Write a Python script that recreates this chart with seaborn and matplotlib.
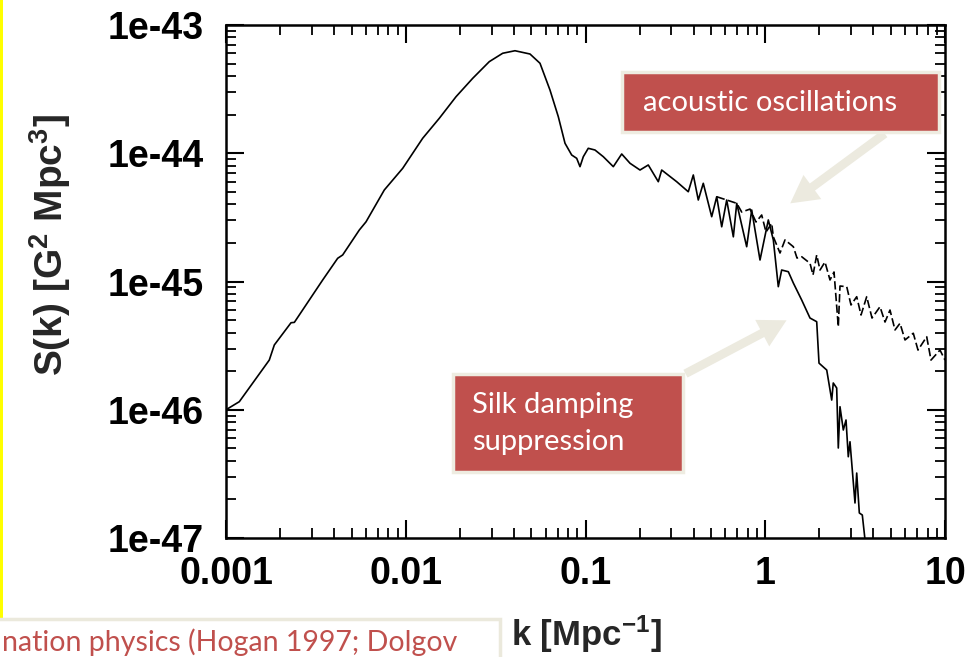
import matplotlib
matplotlib.use("Agg")
import matplotlib.pyplot as plt
import seaborn as sns
import pandas as pd
from matplotlib.ticker import LogLocator, NullFormatter, FixedLocator, FixedFormatter
from matplotlib.patches import Rectangle, FancyArrowPatch

# ---------------- data ----------------
k_solid = [0.001, 0.001186, 0.001741, 0.001857, 0.00230, 0.00240, 0.003451, 0.004181,
           0.004457, 0.005516, 0.006012, 0.007597, 0.009617, 0.01242, 0.01537, 0.01904,
           0.02358, 0.02916, 0.03462, 0.04052, 0.04912, 0.05583, 0.06345, 0.07058,
           0.07691, 0.08378, 0.08933, 0.09320, 0.09723, 0.1036, 0.1129, 0.1256,
           0.1428, 0.1590, 0.1769, 0.2010, 0.2235, 0.2541, 0.2654, 0.3216, 0.3731,
           0.3979, 0.4241, 0.4521, 0.5036, 0.5370, 0.5725, 0.6103, 0.6645, 0.6940,
           0.7883, 0.8407, 0.9350, 1.040, 1.109, 1.182, 1.234, 1.344, 1.433, 1.595,
           1.774, 1.933, 1.991, 2.198, 2.343, 2.390, 2.497, 2.549, 2.605, 2.718,
           2.814, 2.897, 2.961, 3.157, 3.227, 3.337, 3.467, 3.613]
S_solid = [1.0e-46, 1.156e-46, 2.44e-46, 3.20e-46, 4.77e-46, 4.80e-46, 1.028e-45, 1.517e-45,
           1.61e-45, 2.52e-45, 2.92e-45, 5.17e-45, 7.63e-45, 1.308e-44, 1.873e-44, 2.76e-44,
           3.84e-44, 5.18e-44, 6.02e-44, 6.30e-44, 5.94e-44, 5.03e-44, 3.11e-44, 1.928e-44,
           1.196e-44, 9.69e-45, 9.13e-45, 7.86e-45, 9.40e-45, 1.093e-44, 1.060e-44, 9.40e-45,
           7.86e-45, 9.87e-45, 8.35e-45, 7.40e-45, 8.10e-45, 6.00e-45, 7.40e-45, 6.00e-45, 5.01e-45,
           6.77e-45, 4.32e-45, 5.83e-45, 3.20e-45, 4.58e-45, 2.67e-45, 4.32e-45, 2.23e-45, 4.07e-45,
           1.867e-45, 3.61e-45, 1.471e-45, 3.02e-45, 2.11e-45, 9.11e-46, 1.229e-45, 1.192e-45,
           9.73e-46, 7.17e-46, 5.19e-46, 4.86e-46, 2.31e-46, 2.04e-46, 1.19e-46, 1.617e-46,
           1.478e-46, 5.03e-47, 1.056e-46, 6.95e-47, 8.32e-47, 4.30e-47, 5.63e-47, 1.875e-47,
           3.21e-47, 1.567e-47, 1.511e-47, 8.9e-48]

k_dashed = [0.5370, 0.6103, 0.6940, 0.7396, 0.8226, 0.8882, 0.9554, 1.0097, 1.0862, 1.109,
            1.208, 1.288, 1.433, 1.502, 1.595, 1.774, 1.844, 1.933, 2.017, 2.149, 2.292,
            2.413, 2.549, 2.605, 2.840, 2.999, 3.227, 3.411, 3.667, 3.926, 4.349, 4.637,
            4.943, 5.270, 5.619, 5.992, 6.661, 7.076, 7.910, 8.358, 9.380, 10.0]
S_dashed = [4.58e-45, 4.32e-45, 4.07e-45, 3.48e-45, 3.67e-45, 2.91e-45, 3.30e-45, 2.43e-45,
            2.84e-45, 2.23e-45, 1.668e-45, 2.11e-45, 1.867e-45, 1.524e-45, 1.56e-45, 1.387e-45,
            1.124e-45, 1.609e-45, 1.229e-45, 1.419e-45, 1.028e-45, 1.186e-45, 4.44e-46, 9.22e-46,
            9.11e-46, 6.56e-46, 7.61e-46, 5.48e-46, 7.61e-46, 5.19e-46, 6.36e-46, 4.83e-46,
            5.99e-46, 4.19e-46, 4.72e-46, 3.50e-46, 3.95e-46, 2.92e-46, 3.71e-46, 2.44e-46,
            2.92e-46, 2.44e-46]

x_ticks = [0.001, 0.01, 0.1, 1, 10]
x_tick_labels = ["0.001", "0.01", "0.1", "1", "10"]
y_ticks = [1e-47, 1e-46, 1e-45, 1e-44, 1e-43]
y_tick_labels = ["1e-47", "1e-46", "1e-45", "1e-44", "1e-43"]

x_label = "k [Mpc$^{-1}$]"
y_label = "S(k) [G$^{2}$ Mpc$^{3}$]"
note_acoustic = "acoustic oscillations"
note_silk_1 = "Silk damping"
note_silk_2 = "suppression"
footer_text = "nation physics (Hogan 1997; Dolgov"

# ---------------- style ----------------
sns.set_style("ticks")
plt.rcParams["font.family"] = ["Liberation Sans", "DejaVu Sans"]
plt.rcParams["mathtext.fontset"] = "custom"
plt.rcParams["mathtext.rm"] = "Liberation Sans:bold"
plt.rcParams["mathtext.bf"] = "Liberation Sans:bold"
plt.rcParams["mathtext.default"] = "rm"

W, H = 980, 657
fig = plt.figure(figsize=(W / 100, H / 100), dpi=100)
fig.patch.set_facecolor("white")

def fx(x):
    return x / W

def fy(y):
    return 1 - y / H

ax = fig.add_axes([226 / W, (H - 538) / H, (945 - 226) / W, (538 - 25) / H])
ax.set_facecolor("white")

df_s = pd.DataFrame({"k": k_solid, "S": S_solid})
df_d = pd.DataFrame({"k": k_dashed, "S": S_dashed})

ax.set_xscale("log")
ax.set_yscale("log")
sns.lineplot(data=df_d, x="k", y="S", ax=ax, color="black", lw=1.2,
             estimator=None, sort=False, dashes=False, linestyle=(0, (5, 2)))
sns.lineplot(data=df_s, x="k", y="S", ax=ax, color="black", lw=1.2,
             estimator=None, sort=False)

ax.set_xlim(0.001, 10)
ax.set_ylim(1e-47, 1e-43)

ax.xaxis.set_major_locator(FixedLocator(x_ticks))
ax.xaxis.set_major_formatter(FixedFormatter(x_tick_labels))
ax.yaxis.set_major_locator(FixedLocator(y_ticks))
ax.yaxis.set_major_formatter(FixedFormatter(y_tick_labels))
ax.xaxis.set_minor_locator(LogLocator(base=10, subs=range(2, 10), numticks=20))
ax.yaxis.set_minor_locator(LogLocator(base=10, subs=range(2, 10), numticks=20))
ax.xaxis.set_minor_formatter(NullFormatter())
ax.yaxis.set_minor_formatter(NullFormatter())

ax.tick_params(which="both", direction="in", top=True, right=True, colors="black")
ax.tick_params(which="major", length=13, width=1.5)
ax.tick_params(which="minor", length=7, width=1.3)
ax.tick_params(axis="x", which="major", pad=13, labelsize=27)
ax.tick_params(axis="y", which="major", pad=16, labelsize=27)
for lab in ax.get_xticklabels() + ax.get_yticklabels():
    lab.set_fontweight("bold")
for sp in ax.spines.values():
    sp.set_visible(True)
    sp.set_linewidth(1.8)
    sp.set_color("black")
ax.set_xlabel("")
ax.set_ylabel("")

fig.text(fx(50), fy(245), y_label, rotation=90, ha="center", va="center",
         fontsize=28, fontweight="bold")
fig.text(fx(586), fy(634), x_label, ha="center", va="center",
         fontsize=25, fontweight="bold")

# ---------------- slide decorations ----------------
box_red = "#c0504d"
beige = "#eceadf"

# yellow edge line
fig.add_artist(Rectangle((0, fy(618)), fx(3), 1 - fy(618), transform=fig.transFigure,
                         fc="#ffff00", ec="none", zorder=5))

# footer box
fig.add_artist(Rectangle((fx(-6), fy(680)), fx(506), (680 - 619) / H, transform=fig.transFigure,
                         fc="white", ec="#ebe9dc", lw=2.5, zorder=5))
fig.text(fx(2), fy(651), footer_text, ha="left", va="baseline", fontsize=20.5,
         color=box_red, family=["Lato", "DejaVu Sans"], zorder=6)

# arrows
fig.add_artist(FancyArrowPatch((fx(887), fy(132)), (fx(788), fy(205)),
                               transform=fig.transFigure,
                               arrowstyle="simple,head_length=1.1,head_width=1.2,tail_width=0.35",
                               mutation_scale=18, color=beige, lw=0, zorder=4))
fig.add_artist(FancyArrowPatch((fx(683), fy(375)), (fx(789), fy(319)),
                               transform=fig.transFigure,
                               arrowstyle="simple,head_length=1.1,head_width=1.2,tail_width=0.35",
                               mutation_scale=18, color=beige, lw=0, zorder=4))

# annotation boxes
fig.add_artist(Rectangle((fx(622), fy(132)), fx(939 - 622), (132 - 72) / H, transform=fig.transFigure,
                         fc=box_red, ec="#eeece1", lw=2.5, zorder=5))
fig.text(fx(643), fy(111), note_acoustic, ha="left", va="baseline", fontsize=21,
         color="white", family=["Lato", "DejaVu Sans"], zorder=6)

fig.add_artist(Rectangle((fx(453), fy(472)), fx(683 - 453), (472 - 374) / H, transform=fig.transFigure,
                         fc=box_red, ec="#eeece1", lw=2.5, zorder=5))
fig.text(fx(472), fy(413), note_silk_1, ha="left", va="baseline", fontsize=21,
         color="white", family=["Lato", "DejaVu Sans"], zorder=6)
fig.text(fx(472), fy(450), note_silk_2, ha="left", va="baseline", fontsize=21,
         color="white", family=["Lato", "DejaVu Sans"], zorder=6)

fig.savefig("out.png", dpi=100, facecolor="white")
